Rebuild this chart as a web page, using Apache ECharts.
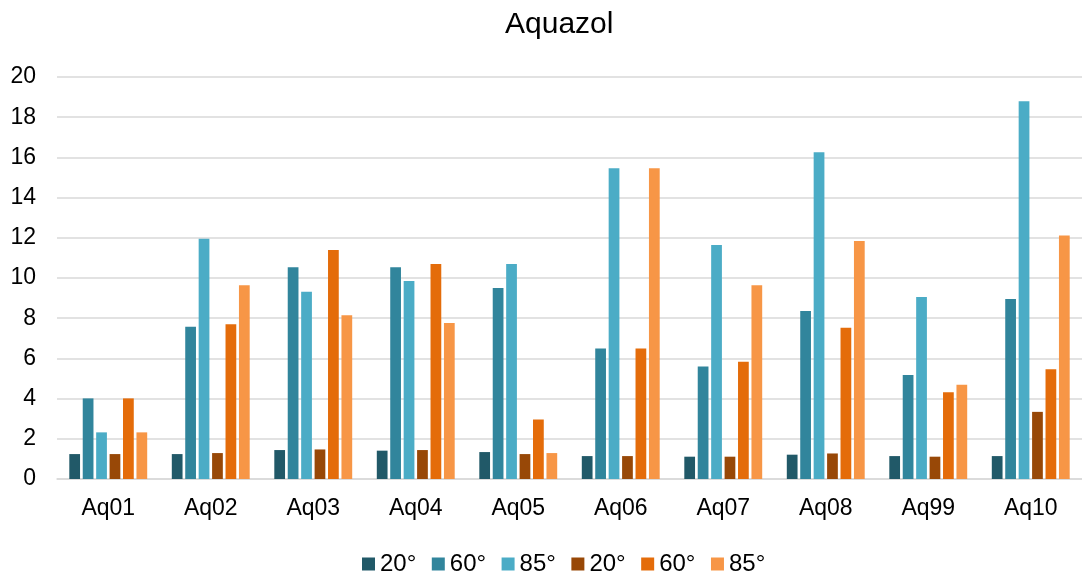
<!DOCTYPE html>
<html>
<head>
<meta charset="utf-8">
<script src="https://cdn.jsdelivr.net/npm/echarts@6/dist/echarts.min.js"></script>
<style>
  html, body { margin: 0; padding: 0; background: #fff; }
  #chart { width: 1082px; height: 579px; }
</style>
</head>
<body>
<div id="chart"></div>
<script>
// Sample names along the x axis
const categories = ['Aq01', 'Aq02', 'Aq03', 'Aq04', 'Aq05', 'Aq06', 'Aq07', 'Aq08', 'Aq99', 'Aq10'];

// Gloss readings at three angles, first set (teal) and second set (orange)
const gloss20a = [1.24, 1.24, 1.44, 1.41, 1.34, 1.14, 1.11, 1.21, 1.14, 1.14];
const gloss60a = [4.01, 7.57, 10.53, 10.53, 9.50, 6.49, 5.60, 8.36, 5.18, 8.96];
const gloss85a = [2.32, 11.95, 9.32, 9.85, 10.70, 15.46, 11.64, 16.26, 9.06, 18.79];
const gloss20b = [1.24, 1.29, 1.47, 1.44, 1.24, 1.14, 1.11, 1.27, 1.11, 3.34];
const gloss60b = [4.01, 7.70, 11.39, 10.70, 2.96, 6.49, 5.83, 7.52, 4.32, 5.46];
const gloss85b = [2.32, 9.64, 8.15, 7.76, 1.29, 15.46, 9.64, 11.84, 4.69, 12.12];

// Legend labels (the two sets share the same angle labels)
const seriesKeys = ['s20a', 's60a', 's85a', 's20b', 's60b', 's85b'];
const legendLabels = ['20°', '60°', '85°', '20°', '60°', '85°'];
const seriesValues = [gloss20a, gloss60a, gloss85a, gloss20b, gloss60b, gloss85b];
const colors = ['#215968', '#31859c', '#4bacc6', '#984807', '#e46c0a', '#f79646'];

// Y axis ticks
const yMin = 0, yMax = 20, yStep = 2;

const font = '"Liberation Sans", Arial, sans-serif';

const chart = echarts.init(document.getElementById('chart'), null, { renderer: 'canvas' });

const labelOf = {};
seriesKeys.forEach((k, i) => { labelOf[k] = legendLabels[i]; });

chart.setOption({
  animation: false,
  backgroundColor: '#fff',
  title: {
    text: 'Aquazol',
    left: 500,
    top: 5,
    textStyle: { fontFamily: font, fontSize: 30, fontWeight: 'normal', color: '#000' }
  },
  legend: {
    data: seriesKeys,
    top: 552,
    left: 362,
    padding: 0,
    itemWidth: 13,
    itemHeight: 13,
    itemGap: 15.5,
    icon: 'rect',
    formatter: name => labelOf[name],
    textStyle: { fontFamily: font, fontSize: 24, color: '#000' }
  },
  grid: { left: 57, right: 0, top: 77, bottom: 100, containLabel: false },
  xAxis: {
    type: 'category',
    data: categories,
    axisLine: { show: true, lineStyle: { color: '#d9d9d9', width: 1.5 } },
    axisTick: { show: false },
    axisLabel: { fontFamily: font, fontSize: 23, color: '#000', margin: 18 }
  },
  yAxis: {
    type: 'value',
    min: yMin,
    max: yMax,
    interval: yStep,
    axisLine: { show: false },
    axisTick: { show: false },
    splitLine: { lineStyle: { color: '#d9d9d9', width: 1.5 } },
    axisLabel: { fontFamily: font, fontSize: 23, color: '#000', margin: 21 }
  },
  series: seriesKeys.map((k, i) => ({
    name: k,
    type: 'bar',
    data: seriesValues[i],
    barGap: '25%',
    barCategoryGap: '24%',
    itemStyle: { color: colors[i] }
  }))
});
</script>
</body>
</html>
